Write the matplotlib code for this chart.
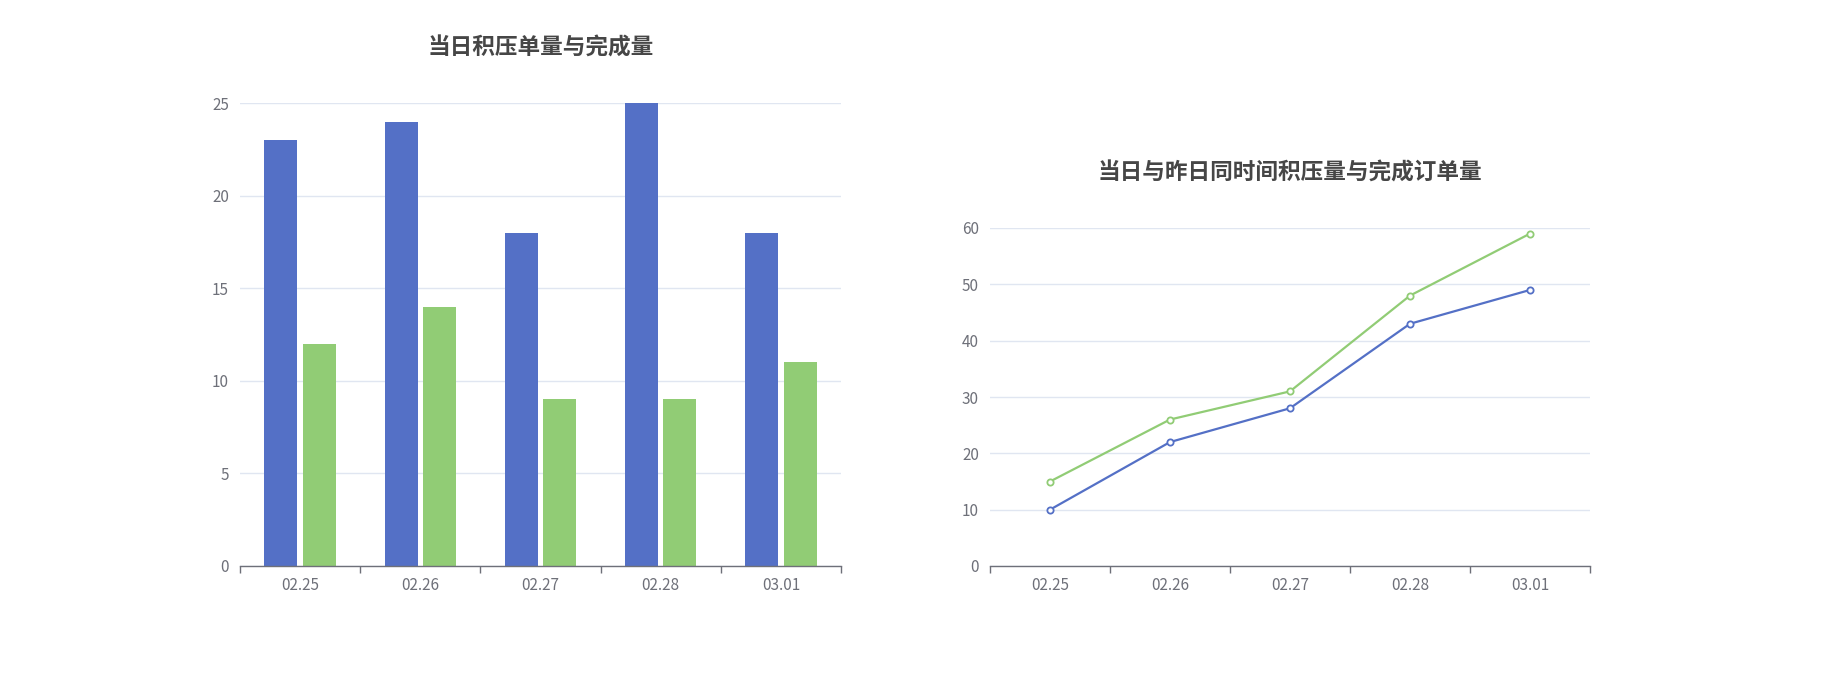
import matplotlib
matplotlib.use("Agg")
import matplotlib.pyplot as plt
import numpy as np

plt.rcParams['font.family'] = ['Noto Sans CJK SC', 'DejaVu Sans']

dates = ["02.25", "02.26", "02.27", "02.28", "03.01"]
backlog_today = [23, 24, 18, 25, 18]
done_today = [12, 14, 9, 9, 11]
line_backlog = [10, 22, 28, 43, 49]
line_done = [15, 26, 31, 48, 59]

title_left = "当日积压单量与完成量"
title_right = "当日与昨日同时间积压量与完成订单量"

BLUE = "#5470c6"
GREEN = "#91cc75"
AXIS = "#6e7079"
GRID = "#e0e6f1"
TITLE = "#464646"

fig = plt.figure(figsize=(18.41, 6.77), dpi=100)
ax1 = fig.add_axes([240/1841, 1-566/677, 601/1841, (566-103)/677])
ax2 = fig.add_axes([990/1841, 1-566/677, 600/1841, (566-228)/677])

def style(ax, ymax, step):
    ax.set_xlim(-0.5, len(dates)-0.5)
    ax.set_ylim(0, ymax)
    ax.set_yticks(np.arange(0, ymax+0.1, step))
    ax.set_xticks(range(len(dates)))
    ax.set_xticklabels(dates)
    ax.set_xticks(np.arange(-0.5, len(dates), 1), minor=True)
    ax.tick_params(axis='x', which='major', length=0, pad=8, labelsize=11, labelcolor=AXIS)
    ax.tick_params(axis='x', which='minor', length=5, width=1, color=AXIS)
    ax.tick_params(axis='y', length=0, pad=8, labelsize=11, labelcolor=AXIS)
    for s in ['top', 'right', 'left']:
        ax.spines[s].set_visible(False)
    ax.spines['bottom'].set_color(AXIS)
    ax.spines['bottom'].set_linewidth(1)
    ax.grid(axis='y', color=GRID, linewidth=1)
    ax.set_axisbelow(True)

x = np.arange(len(dates))
w = 0.275
off = 0.16
ax1.bar(x-off, backlog_today, width=w, color=BLUE, zorder=2)
ax1.bar(x+off, done_today, width=w, color=GREEN, zorder=2)
style(ax1, 25, 5)
ax1.set_title(title_left, fontsize=16.3, fontweight='bold', color=TITLE, pad=35)

ax2.plot(x, line_backlog, color=BLUE, lw=1.6, marker='o', markersize=4.5,
         markerfacecolor='white', markeredgecolor=BLUE, markeredgewidth=1.3, zorder=3, clip_on=False)
ax2.plot(x, line_done, color=GREEN, lw=1.6, marker='o', markersize=4.5,
         markerfacecolor='white', markeredgecolor=GREEN, markeredgewidth=1.3, zorder=3, clip_on=False)
style(ax2, 60, 10)
ax2.set_title(title_right, fontsize=16.3, fontweight='bold', color=TITLE, pad=35)

fig.savefig("out.png", dpi=100, facecolor='white')
